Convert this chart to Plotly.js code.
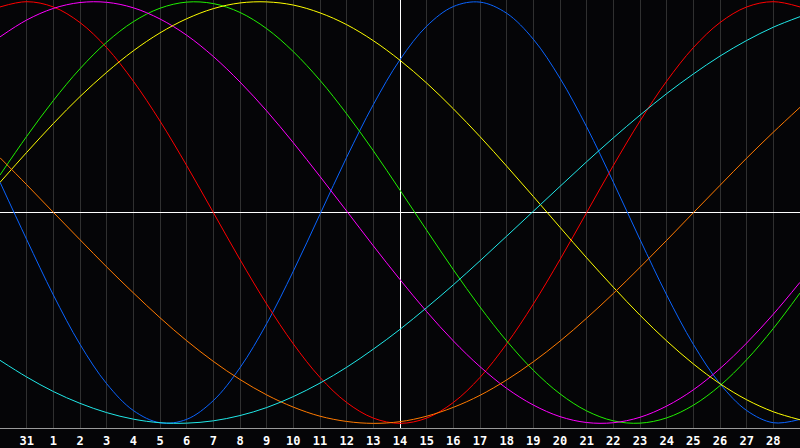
<!doctype html>
<html>
<head>
  <meta charset="utf-8">
  <title>Biorhythm</title>
  <script src="https://cdn.plot.ly/plotly-3.0.1.min.js"></script>
  <style>
    html, body { margin: 0; padding: 0; background: #050507; }
    #chart { width: 800px; height: 448px; }
  </style>
</head>
<body>
  <div id="chart"></div>
  <script>
      // days relative to today (0 = the 14th, the white centre line)
      var dayOffsets = [-15,-14,-13,-12,-11,-10,-9,-8,-7,-6,-5,-4,-3,-2,-1,0,1,2,3,4,5,6,7,8,9,10,11,12,13,14,15];
      var tickDays = [-14,-13,-12,-11,-10,-9,-8,-7,-6,-5,-4,-3,-2,-1,0,1,2,3,4,5,6,7,8,9,10,11,12,13,14];
      var tickLabels = ['31','1','2','3','4','5','6','7','8','9','10','11','12','13','14','15','16','17','18','19','20','21','22','23','24','25','26','27','28'];

      // curve values, one per day (-1 .. 1)
      var physical = [0.144,-0.128,-0.391,-0.625,-0.812,-0.939,-0.997,-0.981,-0.892,-0.736,-0.527,-0.278,-0.008,0.262,0.512,0.725,0.884,0.977,0.998,0.945,0.822,0.637,0.406,0.144,-0.128,-0.391,-0.625,-0.812,-0.939,-0.997,-0.981];
      var emotional = [0.975,1.000,0.975,0.901,0.782,0.623,0.434,0.223,0,-0.223,-0.434,-0.623,-0.782,-0.901,-0.975,-1.000,-0.975,-0.901,-0.782,-0.623,-0.434,-0.223,0,0.223,0.434,0.623,0.782,0.901,0.975,1.000,0.975];
      var intellectual = [0.178,0.361,0.531,0.682,0.808,0.905,0.969,0.998,0.991,0.949,0.872,0.763,0.627,0.468,0.293,0.106,-0.084,-0.271,-0.448,-0.609,-0.748,-0.860,-0.941,-0.988,-0.999,-0.974,-0.914,-0.821,-0.698,-0.550,-0.382];
      var intuitive = [0.833,0.913,0.968,0.996,0.997,0.971,0.918,0.841,0.740,0.619,0.482,0.331,0.171,0.007,-0.158,-0.318,-0.470,-0.609,-0.731,-0.834,-0.913,-0.968,-0.996,-0.997,-0.971,-0.918,-0.841,-0.740,-0.619,-0.482,-0.331];
      var aesthetic = [0.143,0.285,0.422,0.550,0.665,0.767,0.852,0.919,0.967,0.994,0.999,0.984,0.947,0.891,0.815,0.722,0.614,0.492,0.360,0.220,0.076,-0.070,-0.215,-0.354,-0.487,-0.609,-0.718,-0.812,-0.888,-0.945,-0.983];
      var awareness = [0.260,0.132,0.001,-0.129,-0.258,-0.381,-0.499,-0.608,-0.706,-0.792,-0.865,-0.923,-0.966,-0.991,-1.000,-0.992,-0.966,-0.924,-0.867,-0.794,-0.708,-0.610,-0.501,-0.384,-0.260,-0.132,-0.001,0.129,0.258,0.381,0.499];
      var spiritual = [-0.701,-0.780,-0.849,-0.905,-0.949,-0.980,-0.997,-0.999,-0.988,-0.963,-0.925,-0.873,-0.809,-0.734,-0.648,-0.554,-0.451,-0.343,-0.229,-0.112,0.006,0.124,0.241,0.354,0.462,0.564,0.657,0.742,0.816,0.879,0.929];

      var curves = [
        {name: 'physical', y: physical, color: '#0a64ff'},
        {name: 'emotional', y: emotional, color: '#ff0000'},
        {name: 'intellectual', y: intellectual, color: '#20f000'},
        {name: 'intuitive', y: intuitive, color: '#ff00ff'},
        {name: 'aesthetic', y: aesthetic, color: '#ffff00'},
        {name: 'awareness', y: awareness, color: '#ff7a00'},
        {name: 'spiritual', y: spiritual, color: '#20e8e8'}
      ];

      var data = curves.map(function(c) {
        return {
          x: dayOffsets,
          y: c.y,
          name: c.name,
          type: 'scatter',
          mode: 'lines',
          line: {color: c.color, width: 1, shape: 'spline', smoothing: 1},
          hoverinfo: 'skip'
        };
      });

      var layout = {
        width: 800,
        height: 448,
        margin: {l: 0, r: 0, t: 0, b: 20, pad: 0},
        paper_bgcolor: '#050507',
        plot_bgcolor: '#050507',
        showlegend: false,
        xaxis: {
          range: [-15, 15],
          tickvals: tickDays,
          ticktext: tickLabels,
          tickfont: {family: 'DejaVu Sans Mono', size: 12, color: '#ffffff', weight: 'bold'},
          ticks: '',
          ticklabelstandoff: 2,
          showgrid: true,
          gridcolor: '#303030',
          gridwidth: 1,
          zeroline: true,
          zerolinecolor: '#ffffff',
          zerolinewidth: 1,
          showline: true,
          linecolor: '#9a9a9a',
          linewidth: 1,
          mirror: true,
          fixedrange: true
        },
        yaxis: {
          range: [-1.022, 1.008],
          showticklabels: false,
          ticks: '',
          showgrid: false,
          zeroline: true,
          zerolinecolor: '#ffffff',
          zerolinewidth: 1,
          showline: true,
          linecolor: '#9a9a9a',
          linewidth: 1,
          fixedrange: true
        }
      };

      Plotly.newPlot('chart', data, layout, {staticPlot: true, displayModeBar: false});
  </script>
</body>
</html>
